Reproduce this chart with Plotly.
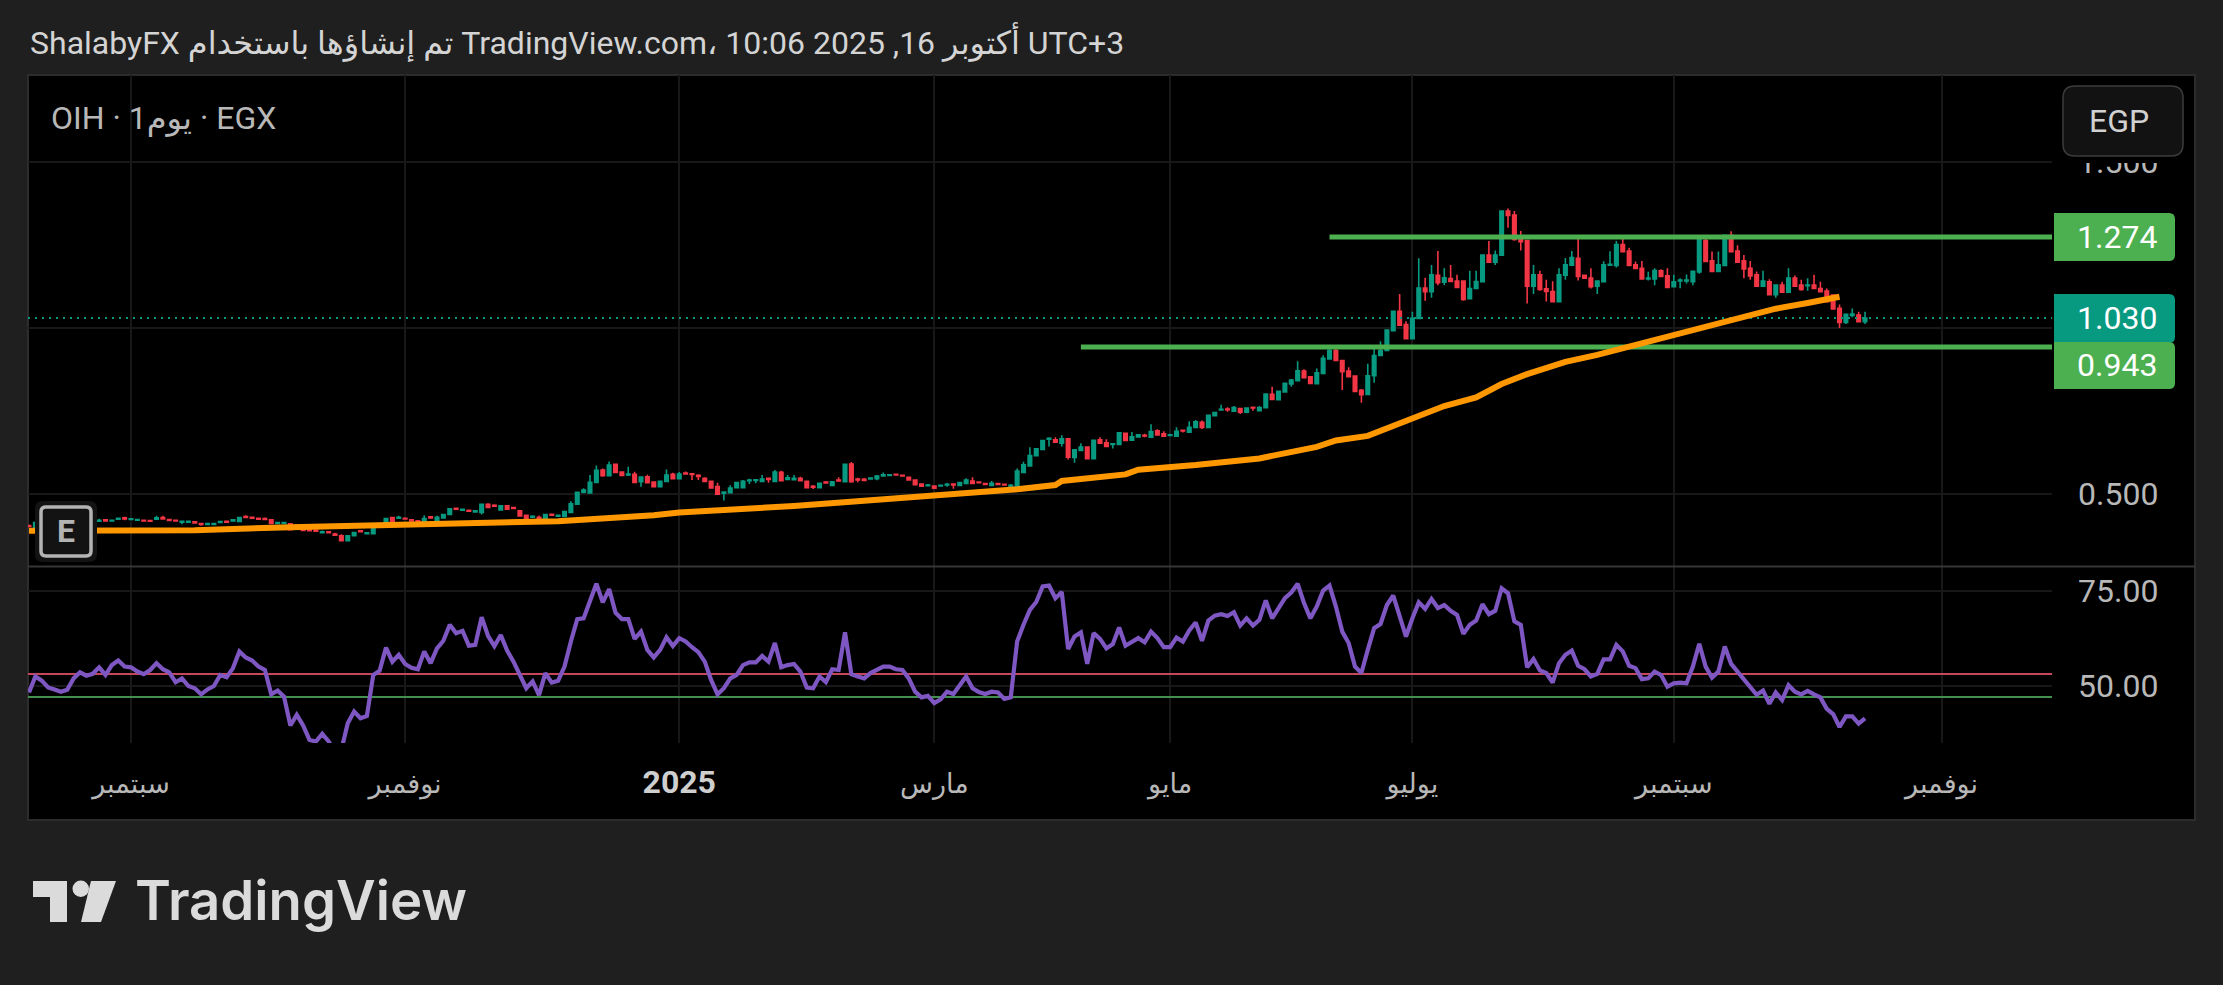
import plotly.graph_objects as go
from plotly.subplots import make_subplots

W = 2223
H = 985

opens = [
    .405, .397, .414, .416, .414, .417, .415, .418, .416, .414, .417,
    .418, .422, .419, .424, .428, .423, .421, .421, .420, .424,
    .429, .423, .421, .415, .415, .416, .411, .408, .408, .414,
    .418, .419, .417, .432, .430, .427, .426, .422, .411, .411,
    .410, .400, .402, .392, .391, .383, .386, .379, .374, .359,
    .374, .389, .380, .380, .405, .409, .429, .427, .427, .422,
    .419, .416, .431, .420, .428, .438, .457, .451, .451, .446,
    .444, .469, .466, .452, .464, .459, .449, .436, .430, .430,
    .420, .439, .433,
    .432, .444, .469, .505, .503, .535, .572, .555, .589, .566,
    .557, .559, .537, .552, .536, .522, .538, .559, .546, .563,
    .561, .556, .547, .538, .522, .502, .504, .519, .519, .540,
    .541, .538, .547, .538, .565, .544, .543, .547, .538, .523,
    .519, .536, .526, .542, .537, .590, .545, .544, .545, .546,
    .554, .556, .559, .556, .550, .542, .530, .525, .524, .524,
    .527, .530, .526, .532, .539, .536, .531, .526, .531, .529, .520,
    .522, .565, .584, .615, .634, .665, .663, .653, .666, .610,
    .631, .641, .606, .663, .654, .649, .649, .683, .662, .672,
    .677, .671, .690, .681, .676, .674, .692, .686, .700, .716,
    .700, .736, .753, .756, .749, .757, .746, .761, .751, .760,
    .800, .784, .807, .831, .841, .870, .853, .832, .863, .907,
    .932, .902, .870, .855, .812, .800, .856, .917, .932,
    .992, 1.050, 1.010, .968, 1.029, 1.120, 1.109, 1.159, 1.138, 1.149,
    1.141, 1.141, 1.088, 1.119, 1.139, 1.220, 1.198, 1.219, 1.352, 1.340,
    1.272, 1.263, 1.126, 1.160, 1.118, 1.110, 1.079, 1.159, 1.189, 1.210,
    1.159, 1.150, 1.126, 1.139, 1.189, 1.188, 1.251, 1.232, 1.190, 1.180,
    1.148, 1.148, 1.172, 1.157, 1.124, 1.142, 1.142, 1.139, 1.169, 1.263,
    1.202, 1.170, 1.188, 1.279, 1.232, 1.202, 1.180, 1.160, 1.126, 1.139,
    1.100, 1.129, 1.108, 1.150, 1.129, 1.127, 1.129, 1.119, 1.111, 1.099,
    1.059, 1.017, 1.038, 1.039, 1.019,
]
closes = [
    .402, .414, .416, .414, .417, .415, .418, .416, .414, .417, .419,
    .421, .419, .421, .427, .425, .425, .423, .419, .418, .428,
    .425, .420, .419, .418, .418, .413, .408, .411, .411, .417,
    .415, .422, .429, .429, .427, .424, .423, .411, .414, .414,
    .392, .403, .390, .389, .388, .386, .383, .376, .359, .374,
    .384, .386, .383, .404, .409, .426, .417, .430, .425, .419,
    .416, .426, .428, .430, .438, .455, .454, .454, .448, .449,
    .469, .459, .463, .464, .454, .456, .434, .424, .433, .424,
    .438, .436, .436,
    .447, .470, .505, .512, .535, .571, .555, .587, .565, .556,
    .560, .535, .551, .534, .522, .538, .557, .546, .560, .560,
    .559, .553, .538, .518, .499, .506, .518, .534, .538, .542,
    .543, .545, .544, .566, .540, .549, .547, .540, .519, .520,
    .532, .533, .537, .539, .589, .537, .542, .541, .548, .554,
    .558, .558, .557, .554, .542, .528, .523, .527, .517, .526,
    .529, .527, .534, .542, .532, .534, .529, .532, .529, .527, .526,
    .569, .588, .616, .636, .661, .668, .656, .666, .611, .633,
    .641, .606, .662, .653, .643, .651, .684, .661, .672, .678,
    .675, .688, .678, .674, .678, .689, .690, .701, .717, .700,
    .737, .745, .755, .754, .760, .746, .759, .759, .760, .801,
    .785, .809, .833, .843, .871, .850, .833, .865, .909, .932,
    .902, .868, .853, .809, .799, .856, .917, .932, .994,
    1.050, 1.008, .968, 1.029, 1.120, 1.109, 1.160, 1.136, 1.151, 1.140,
    1.122, 1.086, 1.119, 1.140, 1.220, 1.198, 1.220, 1.352, 1.339, 1.267,
    1.260, 1.126, 1.160, 1.116, 1.110, 1.079, 1.160, 1.190, 1.212, 1.155,
    1.150, 1.124, 1.141, 1.190, 1.192, 1.251, 1.230, 1.188, 1.179, 1.148,
    1.150, 1.173, 1.155, 1.122, 1.139, 1.144, 1.144, 1.171, 1.267, 1.200,
    1.170, 1.190, 1.279, 1.230, 1.198, 1.178, 1.157, 1.126, 1.141, 1.100,
    1.129, 1.108, 1.150, 1.126, 1.116, 1.129, 1.119, 1.109, 1.079, 1.057,
    1.017, 1.041, 1.042, 1.019, 1.030,
]
highs = [
    .406, .418, .417, .417, .418, .418, .419, .419, .417, .418, .420,
    .425, .423, .422, .429, .431, .426, .424, .422, .421, .434,
    .434, .424, .422, .419, .419, .417, .412, .412, .412, .418,
    .419, .423, .430, .436, .431, .428, .429, .423, .415, .415,
    .411, .404, .403, .393, .392, .390, .388, .383, .379, .375,
    .385, .390, .384, .410, .411, .428, .430, .434, .428, .423,
    .420, .436, .432, .434, .439, .456, .459, .455, .452, .450,
    .470, .472, .469, .466, .467, .461, .450, .437, .436, .435,
    .439, .441, .437,
    .448, .478, .506, .517, .557, .586, .577, .598, .592, .567,
    .582, .567, .552, .558, .537, .539, .574, .564, .566, .568,
    .562, .559, .550, .539, .534, .507, .526, .535, .542, .546,
    .544, .557, .548, .572, .570, .557, .557, .552, .539, .527,
    .533, .539, .538, .550, .590, .596, .549, .548, .549, .557,
    .565, .559, .560, .557, .551, .543, .531, .530, .525, .527,
    .533, .531, .535, .547, .550, .537, .532, .539, .532, .530, .530,
    .577, .597, .641, .637, .662, .671, .671, .677, .667, .634,
    .653, .642, .663, .671, .665, .652, .685, .684, .687, .679,
    .681, .710, .695, .689, .681, .701, .693, .719, .723, .721,
    .738, .746, .769, .761, .765, .758, .760, .762, .765, .802,
    .823, .810, .834, .846, .900, .876, .854, .878, .918, .939,
    .938, .903, .882, .856, .816, .892, .946, .960, .995,
    1.051, 1.102, 1.020, 1.049, 1.210, 1.151, 1.190, 1.232, 1.180, 1.190,
    1.160, 1.142, 1.172, 1.172, 1.221, 1.262, 1.233, 1.353, 1.360, 1.352,
    1.292, 1.264, 1.190, 1.172, 1.145, 1.141, 1.180, 1.211, 1.232, 1.272,
    1.160, 1.180, 1.142, 1.201, 1.231, 1.262, 1.271, 1.242, 1.200, 1.202,
    1.169, 1.180, 1.177, 1.180, 1.160, 1.150, 1.161, 1.172, 1.268, 1.280,
    1.230, 1.230, 1.280, 1.291, 1.249, 1.220, 1.202, 1.170, 1.172, 1.147,
    1.130, 1.139, 1.180, 1.158, 1.145, 1.150, 1.160, 1.139, 1.119, 1.101,
    1.071, 1.042, 1.059, 1.049, 1.049,
]
lows = [
    .401, .396, .413, .413, .413, .414, .414, .415, .413, .413, .416,
    .417, .418, .418, .423, .421, .422, .420, .418, .417, .423,
    .424, .419, .418, .409, .414, .412, .404, .407, .407, .413,
    .414, .418, .416, .428, .426, .423, .422, .410, .410, .410,
    .391, .399, .389, .388, .387, .382, .382, .375, .358, .358,
    .373, .385, .378, .379, .401, .408, .416, .426, .424, .418,
    .415, .415, .427, .419, .427, .437, .453, .450, .447, .445,
    .438, .458, .462, .451, .453, .455, .433, .423, .429, .423,
    .419, .435, .432,
    .431, .443, .468, .502, .502, .534, .552, .554, .564, .555,
    .554, .532, .522, .533, .521, .521, .537, .545, .545, .559,
    .542, .542, .537, .517, .498, .480, .503, .518, .518, .530,
    .532, .537, .534, .537, .539, .543, .542, .539, .518, .515,
    .518, .532, .525, .538, .536, .534, .535, .538, .544, .541,
    .553, .555, .556, .553, .541, .527, .522, .524, .516, .523,
    .522, .516, .525, .531, .531, .533, .528, .525, .528, .526, .519,
    .521, .564, .583, .614, .633, .643, .655, .643, .604, .594,
    .630, .605, .605, .652, .642, .637, .648, .660, .661, .671,
    .671, .670, .677, .673, .675, .673, .685, .685, .699, .696,
    .699, .735, .752, .748, .748, .741, .745, .751, .750, .759,
    .784, .783, .806, .823, .840, .849, .832, .831, .862, .906,
    .901, .813, .852, .808, .775, .799, .835, .916, .931,
    .991, 1.007, .967, .967, 1.028, 1.082, 1.091, 1.129, 1.129, 1.139,
    1.121, 1.082, 1.087, 1.118, 1.138, 1.197, 1.190, 1.218, 1.302, 1.263,
    1.233, 1.074, 1.102, 1.112, 1.080, 1.078, 1.078, 1.145, 1.188, 1.143,
    1.149, 1.119, 1.102, 1.138, 1.188, 1.182, 1.229, 1.187, 1.178, 1.147,
    1.143, 1.129, 1.154, 1.121, 1.123, 1.120, 1.134, 1.129, 1.163, 1.199,
    1.169, 1.169, 1.187, 1.229, 1.197, 1.150, 1.145, 1.125, 1.125, 1.099,
    1.091, 1.107, 1.107, 1.125, 1.112, 1.112, 1.118, 1.108, 1.078, 1.056,
    1.000, 1.012, 1.032, 1.018, 1.012,
]
rsi = [
    48.2, 52.4, 51.3, 49.5, 49.0, 48.4, 48.9, 51.9, 53.5, 52.6,
    53.1, 54.8, 52.8, 55.4, 56.6, 55.0, 54.8, 53.7, 53.0, 54.1,
    55.9, 54.3, 53.5, 50.9, 51.9, 49.9, 49.3, 47.7, 49.0, 49.9,
    52.8, 52.2, 54.6, 59.0, 57.4, 56.6, 55.0, 54.1, 47.7, 48.7,
    47.1, 39.5, 42.3, 39.5, 35.7, 35.3, 37.3, 35.3, 32.6, 33.1,
    40.1, 43.2, 41.4, 42.0, 52.8, 53.9, 60.0, 56.3, 58.1, 55.7,
    54.7, 54.3, 59.0, 55.9, 59.8, 61.8, 66.0, 63.8, 64.4, 60.5,
    60.7, 68.0, 63.1, 60.4, 63.3, 59.2, 56.3, 52.8, 49.3, 51.1,
    47.5, 53.3, 50.8, 51.3, 55.0, 61.6, 67.5, 67.7, 72.6, 76.8,
    71.9, 75.4, 69.2, 67.5, 67.5, 62.3, 64.2, 59.4, 57.4, 59.4,
    62.7, 60.4, 62.5, 61.6, 60.1, 58.8, 56.3, 51.5, 47.7, 49.3,
    51.9, 52.8, 55.4, 56.1, 56.1, 57.8, 56.3, 61.2, 54.8, 55.4,
    55.7, 53.7, 49.5, 49.3, 52.4, 50.9, 54.3, 54.1, 64.0, 53.0,
    52.4, 51.9, 53.3, 54.3, 55.0, 55.0, 54.3, 54.1, 51.9, 48.4,
    46.9, 47.3, 45.4, 46.4, 48.4, 47.8, 50.2, 52.4, 49.3, 48.3,
    47.8, 48.4, 48.2, 46.5, 46.9, 61.6, 66.0, 69.9, 72.0, 76.1,
    76.3, 73.0, 74.6, 59.6, 62.9, 64.0, 55.7, 63.8, 62.3, 59.8,
    60.9, 65.3, 60.5, 61.6, 62.5, 61.4, 64.2, 62.5, 60.1, 60.1,
    62.6, 61.6, 64.5, 66.6, 61.8, 67.1, 68.4, 68.8, 68.3, 69.3,
    65.8, 67.7, 65.8, 67.3, 72.4, 67.7, 70.4, 73.0, 74.5, 76.8,
    71.7, 67.7, 70.8, 75.0, 76.3, 70.8, 64.2, 61.2, 55.0, 53.3,
    59.4, 65.1, 66.2, 71.2, 73.7, 68.6, 62.9, 67.7, 71.9, 70.2,
    72.8, 70.4, 71.2, 69.7, 68.6, 63.6, 66.0, 67.1, 71.4, 68.8,
    69.7, 75.6, 74.3, 66.9, 66.0, 54.8, 57.0, 54.0, 53.3, 50.8,
    55.9, 58.1, 59.2, 55.2, 54.3, 52.4, 53.1, 56.9, 56.9, 60.7,
    59.0, 55.2, 54.6, 51.7, 51.9, 53.7, 52.8, 49.7, 50.6, 50.8,
    50.6, 55.0, 61.0, 55.0, 52.1, 53.7, 60.3, 55.7, 53.7, 51.5,
    49.3, 47.6, 48.7, 45.2, 48.2, 46.2, 50.1, 48.4, 47.7, 48.6,
    47.7, 46.9, 43.9, 42.5, 39.1, 41.9, 41.9, 40.0, 41.4,
]

ma_bars = [0, 26, 41, 55, 69, 83, 98, 102, 120, 136, 146, 155, 161, 162, 172, 174, 183, 193,
           202, 205, 210, 217, 222, 227, 231, 235, 241, 246, 251, 256, 261, 266, 270, 274, 279, 284]
ma_values = [.389, .391, .400, .406, .413, .418, .436, .444, .464, .486, .498, .514, .527, .539,
             .559, .573, .587, .607, .642, .661, .675, .725, .765, .791, .831, .861, .898, .919,
             .944, .971, .996, 1.020, 1.042, 1.058, 1.075, 1.094]

month_bars = [16, 59, 102, 142, 179, 217, 258, 300]
month_labels = ["سبتمبر", "نوفمبر", '<span style="font-size:32px;color:#cfcfcf"><b>2025</b></span>',
                "مارس", "مايو", "يوليو", "سبتمبر", "نوفمبر"]

upper_level = 1.274
upper_start = 204
lower_level = 0.943
lower_start = 165
last_price = 1.030
rsi_upper = 53.08
rsi_lower = 47.0

x_range = [-0.157, 317.33]
bars = list(range(len(closes)))

FONT = "Roboto, DejaVu Sans, sans-serif"
GREEN = "#4caf50"
TEAL = "#089981"
RED = "#f23645"
GRID = "#181818"
TEXT = "#b8b8b8"


def px(x):
    return x / W


def py(y):
    return 1 - y / H


def box(x0, y0, x1, y1, **kw):
    return dict(type="rect", xref="paper", yref="paper", x0=px(x0), x1=px(x1), y0=py(y0), y1=py(y1), **kw)


def rounded(x0, y0, x1, y1, r, fill, line_color=None, line_width=0, left=True):
    l = r if left else 0
    path = (f"M {px(x0 + l)} {py(y0)} L {px(x1 - r)} {py(y0)} Q {px(x1)} {py(y0)} {px(x1)} {py(y0 + r)} "
            f"L {px(x1)} {py(y1 - r)} Q {px(x1)} {py(y1)} {px(x1 - r)} {py(y1)} L {px(x0 + l)} {py(y1)} "
            f"Q {px(x0)} {py(y1)} {px(x0)} {py(y1 - l)} L {px(x0)} {py(y0 + l)} Q {px(x0)} {py(y0)} {px(x0 + l)} {py(y0)} Z")
    return dict(type="path", xref="paper", yref="paper", path=path, fillcolor=fill, layer="above",
                line=dict(color=line_color or fill, width=line_width))


def polygon(points, fill):
    path = "M " + " L ".join(f"{px(x)} {py(y)}" for x, y in points) + " Z"
    return dict(type="path", xref="paper", yref="paper", path=path, fillcolor=fill, line_width=0, layer="above")


def label(text, x, y, size, color, anchor="left", **font):
    return dict(text=text, x=px(x), y=py(y), xref="paper", yref="paper", xanchor=anchor, yanchor="middle",
                showarrow=False, font=dict(family=font.pop("family", FONT), size=size, color=color, **font))


fig = make_subplots(rows=2, cols=1, shared_xaxes=True)

fig.add_trace(go.Scatter(x=x_range, y=[last_price, last_price], mode="lines",
                         line=dict(color=TEAL, width=2, dash="2px,5px")), row=1, col=1)
fig.add_trace(go.Scatter(x=[upper_start, x_range[1]], y=[upper_level, upper_level], mode="lines",
                         line=dict(color=GREEN, width=5)), row=1, col=1)
fig.add_trace(go.Scatter(x=[lower_start, x_range[1]], y=[lower_level, lower_level], mode="lines",
                         line=dict(color=GREEN, width=5)), row=1, col=1)
fig.add_trace(go.Candlestick(x=bars, open=opens, high=highs, low=lows, close=closes, whiskerwidth=0,
                             increasing=dict(line=dict(color=TEAL, width=1.6), fillcolor=TEAL),
                             decreasing=dict(line=dict(color=RED, width=1.6), fillcolor=RED)), row=1, col=1)
fig.add_trace(go.Scatter(x=ma_bars, y=ma_values, mode="lines",
                         line=dict(color="#ff9800", width=6)), row=1, col=1)

fig.add_trace(go.Scatter(x=x_range, y=[rsi_upper, rsi_upper], mode="lines",
                         line=dict(color="#c4475c", width=2)), row=2, col=1)
fig.add_trace(go.Scatter(x=x_range, y=[rsi_lower, rsi_lower], mode="lines",
                         line=dict(color="#43904f", width=2)), row=2, col=1)
fig.add_trace(go.Scatter(x=bars, y=rsi, mode="lines", line=dict(color="#7e57c2", width=4.2)), row=2, col=1)

shapes = [
    box(28, 75, 2195, 820, fillcolor="#000000", line=dict(color="#2c2c2c", width=2), layer="below"),
    dict(type="line", xref="paper", yref="paper", x0=px(28), x1=px(2195), y0=py(566.5), y1=py(566.5),
         line=dict(color="#363636", width=2), layer="above"),
    # price scale label is cut off under the currency button
    box(2053, 150, 2190, 163, fillcolor="#000000", line_width=0, layer="above"),
    rounded(2054, 213, 2175, 261, 6, GREEN, left=False),
    rounded(2054, 294, 2175, 343, 6, TEAL, left=False),
    rounded(2054, 342, 2175, 389, 6, GREEN, left=False),
    rounded(2063, 86, 2183, 156, 12, "#121212", "#3c3c3c", 1.5),
    rounded(35, 501, 97, 562, 8, "#131313"),
    rounded(41, 507, 91, 556, 5, "#131313", "#b4b4b4", 3.5),
    polygon([(33, 881), (67, 881), (67, 922), (50, 922), (50, 897), (33, 897)], "#dbdbdb"),
    dict(type="circle", xref="paper", yref="paper", x0=px(72.5), x1=px(89), y0=py(880.5), y1=py(897),
         fillcolor="#dbdbdb", line_width=0, layer="above"),
    polygon([(91, 881), (116, 881), (101, 922), (81, 922)], "#dbdbdb"),
]

annotations = [
    label("ShalabyFX تم إنشاؤها باستخدام TradingView.com، 10:06 2025 ,16 أكتوبر UTC+3", 28, 42, 32, "#d4d4d4"),
    label("OIH · 1يوم · EGX", 49, 118, 32, TEXT),
    label("EGP", 2119, 121, 32, "#d1d1d1", anchor="center"),
    label("E", 66, 531, 32, "#b4b4b4", anchor="center", weight=700),
    label("1.274", 2075, 237, 32, "#ffffff"),
    label("1.030", 2075, 318, 32, "#ffffff"),
    label("0.943", 2075, 365, 32, "#ffffff"),
    label("TradingView", 133, 900, 54.5, "#dbdbdb", family="Inter, Roboto, sans-serif", weight=600),
]

fig.update_layout(
    width=W,
    height=H,
    autosize=False,
    margin=dict(l=0, r=0, t=0, b=0),
    paper_bgcolor="#1f1f1f",
    plot_bgcolor="#000000",
    showlegend=False,
    hovermode=False,
    boxgap=0.22,
    xaxis_rangeslider_visible=False,
    shapes=shapes,
    annotations=annotations,
)
fig.update_xaxes(range=x_range, domain=[px(28), px(2052)], tickvals=month_bars, ticktext=month_labels,
                 showgrid=True, gridcolor=GRID, gridwidth=2, zeroline=False, showline=False, ticks="",
                 tickangle=0, tickfont=dict(family=FONT, size=27, color=TEXT))
fig.update_xaxes(showticklabels=False, row=1, col=1)
fig.update_xaxes(showticklabels=True, ticklabelstandoff=22, row=2, col=1)
fig.update_yaxes(side="right", showgrid=True, gridcolor=GRID, gridwidth=2, zeroline=False, showline=False,
                 ticks="", ticklabelstandoff=25, tickfont=dict(family=FONT, size=32, color=TEXT))
# the 1.000 label sits behind the price tags in the original, so only its grid line is kept
fig.update_yaxes(range=[0.283, 1.762], domain=[py(566), py(75)], tickvals=[0.5, 1.0, 1.5],
                 ticktext=["0.500", "", "1.500"], row=1, col=1)
fig.update_yaxes(range=[34.9, 81.2], domain=[py(743), py(567)], tickvals=[50, 75],
                 ticktext=["50.00", "75.00"], row=2, col=1)

fig.write_html("out.html", config={"displayModeBar": False},
               post_script="document.body.style.margin='0';document.body.style.overflow='hidden';")
